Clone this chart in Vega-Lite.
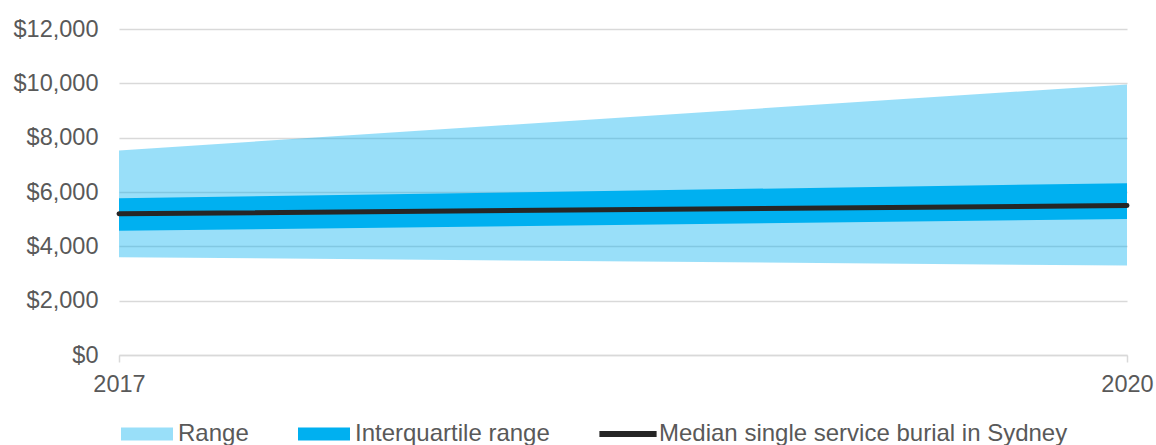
{
  "$schema": "https://vega.github.io/schema/vega-lite/v6.json",
  "autosize": {"type": "none"},
  "width": 1008,
  "height": 326,
  "padding": {"left": 119, "top": 29, "right": 29, "bottom": 90},
  "background": "white",
  "config": {
    "view": {"stroke": null},
    "font": "Liberation Sans",
    "axis": {"labelFont": "Liberation Sans", "labelColor": "#595959", "labelFontSize": 23.5}
  },
  "datasets": {
    "bands": [
      {"year": 2017, "series": "Range", "lo": 3600, "hi": 7530},
      {"year": 2020, "series": "Range", "lo": 3290, "hi": 9960},
      {"year": 2017, "series": "Interquartile range", "lo": 4570, "hi": 5770},
      {"year": 2020, "series": "Interquartile range", "lo": 5010, "hi": 6325}
    ],
    "median": [
      {"year": 2017, "series": "Median single service burial in Sydney", "value": 5200},
      {"year": 2020, "series": "Median single service burial in Sydney", "value": 5500}
    ]
  },
  "encoding": {
    "x": {
      "field": "year", "type": "quantitative",
      "scale": {"domain": [2017, 2020], "nice": false, "zero": false},
      "axis": {
        "title": null, "values": [2017, 2020], "format": "d", "grid": false,
        "domainColor": "#d9d9d9", "domainWidth": 1.5,
        "tickColor": "#d9d9d9", "tickWidth": 1.5, "tickSize": 7,
        "labelPadding": 10, "labelFlush": false
      }
    }
  },
  "layer": [
    {
      "data": {"name": "bands"},
      "transform": [{"filter": "datum.series === 'Range'"}],
      "mark": {"type": "area", "color": "#00B0F0", "opacity": 0.4},
      "encoding": {
        "y": {
          "field": "lo", "type": "quantitative",
          "scale": {"domain": [0, 12000], "nice": false},
          "axis": {
            "title": null, "values": [0, 2000, 4000, 6000, 8000, 10000, 12000],
            "format": "$,.0f", "domain": false, "ticks": false,
            "gridColor": "#d9d9d9", "gridWidth": 1.5, "labelPadding": 21
          }
        },
        "y2": {"field": "hi"}
      }
    },
    {
      "data": {"name": "bands"},
      "transform": [{"filter": "datum.series === 'Interquartile range'"}],
      "mark": {"type": "area", "opacity": 1},
      "encoding": {
        "y": {"field": "lo", "type": "quantitative"},
        "y2": {"field": "hi"},
        "color": {
          "field": "series", "type": "nominal",
          "scale": {
            "domain": ["Range", "Interquartile range", "Median single service burial in Sydney"],
            "range": ["#99DFF9", "#00B0F0", "#262626"]
          },
          "legend": {
            "title": null, "orient": "none", "direction": "horizontal",
            "legendX": 2, "legendY": 379, "padding": 0,
            "symbolSize": 2704, "symbolStrokeWidth": 0, "symbolOpacity": 1,
            "labelFont": "Liberation Sans", "labelFontSize": 24, "labelColor": "#595959",
            "labelOffset": 5, "columnPadding": 49, "labelLimit": 600
          }
        }
      }
    },
    {
      "data": {"name": "median"},
      "mark": {"type": "line", "strokeWidth": 5, "strokeCap": "round"},
      "encoding": {
        "y": {"field": "value", "type": "quantitative"},
        "color": {"field": "series", "type": "nominal"}
      }
    },
    {
      "data": {"name": "median"},
      "mark": {"type": "point", "filled": true, "size": 4, "opacity": 1},
      "encoding": {
        "y": {"field": "value", "type": "quantitative"},
        "color": {"field": "series", "type": "nominal"},
        "shape": {
          "field": "series", "type": "nominal",
          "scale": {
            "domain": ["Range", "Interquartile range", "Median single service burial in Sydney"],
            "range": ["M-1,-0.25H1V0.25H-1Z", "M-1,-0.25H1V0.25H-1Z", "M-1.1,-0.115H1.1V0.115H-1.1Z"]
          },
          "legend": {"title": null}
        }
      }
    }
  ]
}
